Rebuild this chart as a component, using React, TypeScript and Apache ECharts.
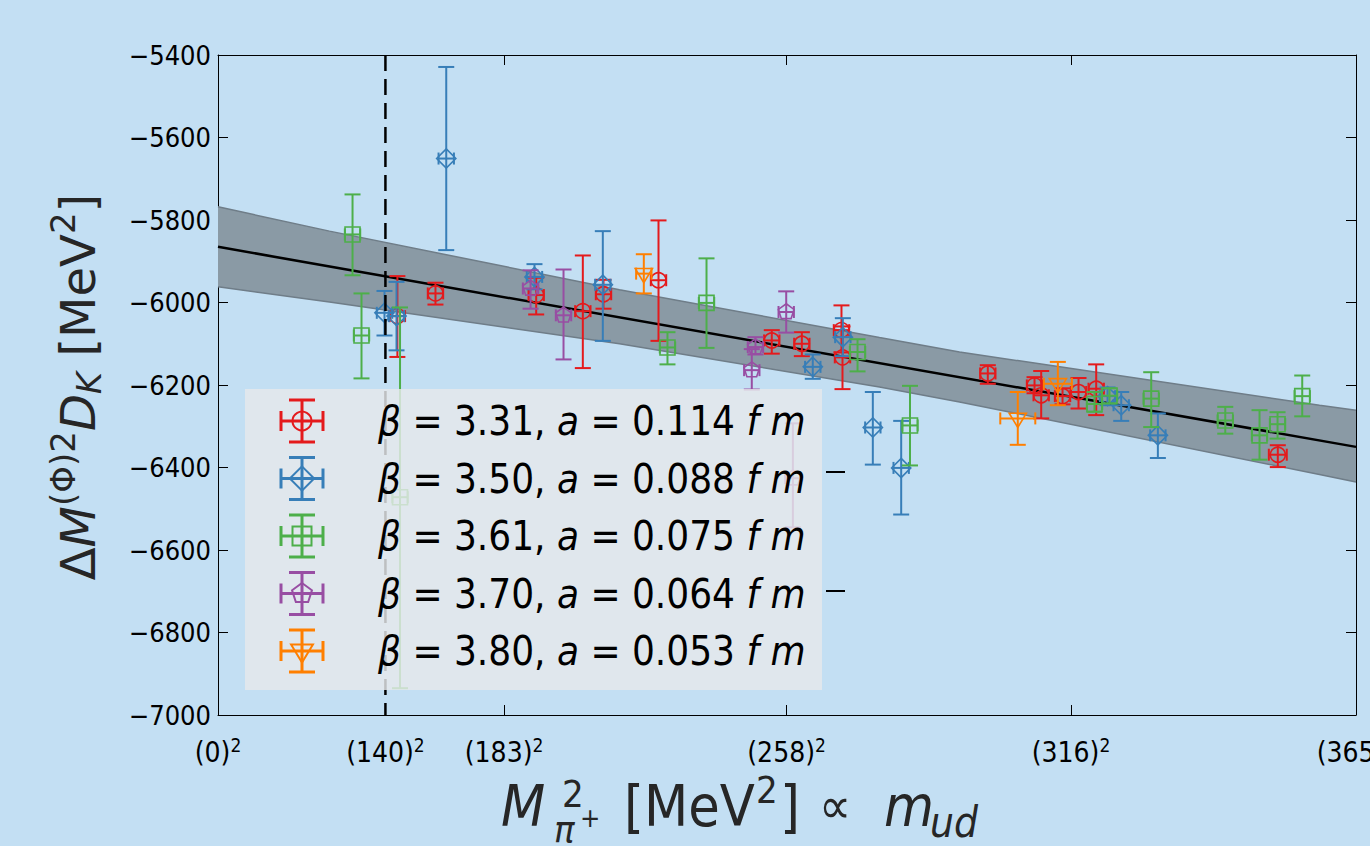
import React, { useEffect, useRef } from "react";
import * as echarts from "echarts";

const FONT_C = "'DejaVu Sans Condensed', 'DejaVu Sans', sans-serif";
const FONT = "'DejaVu Sans', sans-serif";
const BG = "#c3dff3";
const BAND_FILL = "#8a9aa5";
const BAND_EDGE = "#6f7d88";

// tick labels: pion masses (MeV) whose squares mark the x axis
const xTickMasses = [0, 140, 183, 258, 316, 365];
const physicalPionMass = 140;
const yMin = -7000;
const yMax = -5400;
const yStep = 200;

// fit line and its error band (x in MeV^2)
const fitX = [0, 133225];
const fitY = [-5865, -6350];
const bandX = [0, 13050, 47000, 77440, 86810, 128950, 133225];
const bandUpper = [-5768, -5827, -5969, -6085, -6120, -6249, -6261];
const bandLower = [-5962, -5999, -6100, -6205, -6241, -6417, -6435];

// points: [M_pi^2 (MeV^2), value, lower, upper, x error]
const beta331: number[][] = [
  [21000, -6033, -6132, -5936, 900],
  [25460, -5978, -6005, -5952, 900],
  [37250, -5982, -6029, -5940, 900],
  [42710, -6021, -6159, -5886, 900],
  [45130, -5980, -6015, -5945, 900],
  [51570, -5946, -6093, -5801, 900],
  [64830, -6092, -6124, -6067, 900],
  [68350, -6100, -6130, -6072, 900],
  [72990, -6067, -6121, -6007, 900],
  [73110, -6133, -6210, -6058, 900],
  [90120, -6172, -6197, -6152, 900],
  [95590, -6201, -6220, -6181, 900],
  [96370, -6225, -6281, -6166, 900],
  [98870, -6227, -6247, -6208, 900],
  [100740, -6217, -6257, -6183, 900],
  [102810, -6209, -6273, -6150, 900],
  [124070, -6369, -6399, -6346, 1050],
];
const beta350: number[][] = [
  [19490, -6025, -6080, -5972, 900],
  [20900, -6033, -6116, -5950, 900],
  [26720, -5651, -5873, -5429, 900],
  [37050, -5938, -5968, -5907, 900],
  [45050, -5957, -6093, -5827, 900],
  [69630, -6156, -6185, -6126, 900],
  [73150, -6084, -6130, -6038, 900],
  [76660, -6303, -6393, -6217, 900],
  [79980, -6401, -6514, -6287, 900],
  [104140, -6227, -6249, -6206, 900],
  [105740, -6249, -6287, -6217, 900],
  [110030, -6322, -6377, -6269, 900],
];
const beta361: number[][] = [
  [15750, -5835, -5934, -5738, 900],
  [16800, -6080, -6184, -5978, 900],
  [21310, -6472, -6935, -6012, 900],
  [52620, -6109, -6150, -6072, 900],
  [57190, -6001, -6110, -5893, 900],
  [74870, -6120, -6167, -6089, 900],
  [81010, -6298, -6395, -6202, 900],
  [102610, -6246, -6265, -6217, 900],
  [104370, -6226, -6245, -6208, 900],
  [109250, -6233, -6302, -6169, 900],
  [117920, -6286, -6318, -6253, 900],
  [121930, -6322, -6381, -6261, 900],
  [124040, -6295, -6330, -6266, 900],
  [126930, -6227, -6276, -6177, 900],
];
const beta370: number[][] = [
  [36590, -5966, -6015, -5922, 900],
  [40450, -6031, -6138, -5920, 900],
  [62490, -6164, -6211, -6113, 900],
  [62920, -6108, -6126, -6084, 900],
  [66520, -6023, -6073, -5973, 900],
  [67300, -6426, -6545, -6293, 900],
];
const beta380: number[][] = [
  [49850, -5930, -5978, -5883, 900],
  [93630, -6281, -6345, -6217, 2050],
  [98320, -6197, -6249, -6144, 1640],
];

const legendBetas = ["3.31", "3.50", "3.61", "3.70", "3.80"];
const legendSpacings = ["0.114", "0.088", "0.075", "0.064", "0.053"];
const groupColors = ["#e41a1c", "#377eb8", "#4daf4a", "#984ea3", "#ff7f00"];
const groupMarkers = ["circle", "diamond", "square", "pentagon", "triangleDown"];
const groupData = [beta331, beta350, beta361, beta370, beta380];

function marker(kind: string, cx: number, cy: number, s: number, color: string, lw: number): any {
  const style = { fill: "none", stroke: color, lineWidth: lw };
  if (kind === "circle") return { type: "circle", shape: { cx, cy, r: s }, style };
  if (kind === "square")
    return { type: "rect", shape: { x: cx - s, y: cy - s, width: 2 * s, height: 2 * s }, style };
  if (kind === "diamond") {
    const h = s * 1.28;
    return { type: "polygon", shape: { points: [[cx, cy - h], [cx + h, cy], [cx, cy + h], [cx - h, cy]] }, style };
  }
  if (kind === "pentagon") {
    const r = s * 1.1;
    const pts: number[][] = [];
    for (let k = 0; k < 5; k++) {
      const a = -Math.PI / 2 + (k * 2 * Math.PI) / 5;
      pts.push([cx + r * Math.cos(a), cy + r * Math.sin(a)]);
    }
    return { type: "polygon", shape: { points: pts }, style };
  }
  // triangle down
  const r = s * 1.15;
  return {
    type: "polygon",
    shape: { points: [[cx - r, cy - r * 0.6], [cx + r, cy - r * 0.6], [cx, cy + r * 1.05]] },
    style,
  };
}

function lineEl(x1: number, y1: number, x2: number, y2: number, color: string, w: number): any {
  return { type: "line", shape: { x1, y1, x2, y2 }, style: { stroke: color, lineWidth: w } };
}

function errorIcon(kind: string, cx: number, cy: number, color: string, opt: any): any[] {
  const { top, bottom, left, right, capV, capH, size, lw, mlw } = opt;
  return [
    lineEl(cx, top, cx, bottom, color, lw),
    lineEl(cx - capV, top, cx + capV, top, color, lw),
    lineEl(cx - capV, bottom, cx + capV, bottom, color, lw),
    lineEl(left, cy, right, cy, color, lw),
    lineEl(left, cy - capH, left, cy + capH, color, lw),
    lineEl(right, cy - capH, right, cy + capH, color, lw),
    marker(kind, cx, cy, size, color, mlw),
  ];
}

export default function App() {
  const ref = useRef<HTMLDivElement>(null);

  useEffect(() => {
    if (!ref.current) return;
    const chart = echarts.init(ref.current, undefined, { renderer: "svg" });

    const xTickValues = xTickMasses.map((m) => m * m);
    const xMax = xTickValues[xTickValues.length - 1];

    const errorSeries = groupData.map((data, gi) => ({
      type: "custom",
      name: "beta" + legendBetas[gi],
      data,
      encode: { x: 0, y: 1 },
      z: 5,
      silent: true,
      renderItem: (params: any, api: any) => {
        const x = api.value(0);
        const y = api.value(1);
        const lo = api.value(2);
        const hi = api.value(3);
        const xe = api.value(4);
        const c = api.coord([x, y]);
        const t = api.coord([x, hi]);
        const b = api.coord([x, lo]);
        const l = api.coord([x - xe, y]);
        const r = api.coord([x + xe, y]);
        return {
          type: "group",
          children: errorIcon(groupMarkers[gi], c[0], c[1], groupColors[gi], {
            top: t[1], bottom: b[1], left: l[0], right: r[0],
            capV: 8, capH: 6, size: 7.5, lw: 2, mlw: 1.6,
          }),
        };
      },
    }));

    const legendEls: any[] = [
      {
        type: "rect",
        shape: { x: 245, y: 389, width: 577, height: 301 },
        style: { fill: "rgba(231,233,235,0.82)" },
        z: 50,
      },
    ];
    legendBetas.forEach((b, i) => {
      const cy = 421 + i * 57.5;
      const cx = 302;
      errorIcon(groupMarkers[i], cx, cy, groupColors[i], {
        top: cy - 21, bottom: cy + 21, left: cx - 21, right: cx + 21,
        capV: 13, capH: 10, size: 9.5, lw: 3, mlw: 2,
      }).forEach((el) => legendEls.push({ ...el, z: 52 }));
      legendEls.push({
        type: "text",
        z: 52,
        x: 378,
        y: cy,
        style: {
          text: `{i|β}{n| = ${b}, }{i|a}{n| = ${legendSpacings[i]} }{i|f m}`,
          verticalAlign: "middle",
          align: "left",
          fill: "#000",
          rich: {
            n: { fontSize: 40, fontFamily: FONT_C, fill: "#000" },
            i: { fontSize: 40, fontFamily: FONT_C, fontStyle: "italic", fill: "#000" },
          },
        },
      });
    });

    const titleColor = "#262626";
    const axisTitles: any[] = [
      {
        type: "text",
        x: 78,
        y: 387,
        rotation: Math.PI / 2,
        style: {
          text: "{a|Δ}{i|M}{p|(Φ)2}{i|D}{b|K}{a| [MeV}{p|2}{a|]}",
          align: "center",
          verticalAlign: "middle",
          rich: {
            a: { fontSize: 48, fontFamily: FONT, fill: titleColor },
            i: { fontSize: 48, fontFamily: FONT, fontStyle: "italic", fill: titleColor },
            p: { fontSize: 34, fontFamily: FONT, fill: titleColor, padding: [0, 0, 30, 0] },
            b: { fontSize: 34, fontFamily: FONT, fontStyle: "italic", fill: titleColor, padding: [22, 0, 0, 0] },
          },
        },
      },
      {
        type: "text", x: 501, y: 806,
        style: { text: "M", fontSize: 57, fontFamily: FONT_C, fontStyle: "italic", fill: titleColor, verticalAlign: "middle", lineHeight: 50 },
      },
      {
        type: "text", x: 562, y: 794,
        style: { text: "2", fontSize: 38, fontFamily: FONT_C, fill: titleColor, verticalAlign: "middle", lineHeight: 24 },
      },
      {
        type: "text", x: 554, y: 829,
        style: { text: "π", fontSize: 38, fontFamily: FONT_C, fontStyle: "italic", fill: titleColor, verticalAlign: "middle", lineHeight: 24 },
      },
      {
        type: "text", x: 580, y: 817,
        style: { text: "+", fontSize: 27, fontFamily: FONT_C, fill: titleColor, verticalAlign: "middle", lineHeight: 14 },
      },
      {
        type: "text", x: 624, y: 806,
        style: { text: "[MeV", fontSize: 57, fontFamily: FONT_C, fill: titleColor, verticalAlign: "middle", lineHeight: 50 },
      },
      {
        type: "text", x: 756, y: 790,
        style: { text: "2", fontSize: 38, fontFamily: FONT_C, fill: titleColor, verticalAlign: "middle", lineHeight: 26 },
      },
      {
        type: "text", x: 780, y: 806,
        style: { text: "]", fontSize: 57, fontFamily: FONT_C, fill: titleColor, verticalAlign: "middle", lineHeight: 50 },
      },
      {
        type: "text", x: 819, y: 806,
        style: { text: "∝", fontSize: 50, fontFamily: FONT_C, fill: titleColor, verticalAlign: "middle", lineHeight: 40 },
      },
      {
        type: "text", x: 884, y: 806,
        style: { text: "m", fontSize: 57, fontFamily: FONT_C, fontStyle: "italic", fill: titleColor, verticalAlign: "middle", lineHeight: 40 },
      },
      {
        type: "text", x: 930, y: 822,
        style: { text: "ud", fontSize: 42, fontFamily: FONT_C, fontStyle: "italic", fill: titleColor, verticalAlign: "middle", lineHeight: 30 },
      },
      lineEl(826, 472, 845, 472, "#000", 2),
      lineEl(826, 591, 845, 591, "#000", 2),
    ];

    const axisCommon = {
      axisLine: { show: true, onZero: false, lineStyle: { color: "#000", width: 1 } },
      splitLine: { show: false },
    };

    chart.setOption({
      animation: false,
      backgroundColor: BG,
      grid: { left: 218, right: 14, top: 55, bottom: 131, outerBoundsMode: "none", containLabel: false },
      xAxis: [
        {
          type: "value",
          min: 0,
          max: xMax,
          position: "bottom",
          ...axisCommon,
          axisTick: { show: true, inside: true, length: 10, customValues: xTickValues, lineStyle: { color: "#000" } },
          axisLabel: {
            show: true,
            customValues: xTickValues,
            margin: 20,
            color: "#000",
            fontSize: 28,
            fontFamily: FONT_C,
            formatter: (v: number) => `(${Math.round(Math.sqrt(v))}){s|2}`,
            rich: { s: { fontSize: 19, fontFamily: FONT_C, color: "#000", padding: [0, 0, 16, 0] } },
          },
        },
        {
          type: "value",
          min: 0,
          max: xMax,
          position: "top",
          ...axisCommon,
          axisTick: { show: true, inside: true, length: 10, customValues: xTickValues, lineStyle: { color: "#000" } },
          axisLabel: { show: false },
        },
      ],
      yAxis: [
        {
          type: "value",
          min: yMin,
          max: yMax,
          interval: yStep,
          position: "left",
          ...axisCommon,
          axisTick: { show: true, inside: true, length: 10, lineStyle: { color: "#000" } },
          axisLabel: {
            margin: 7,
            color: "#000",
            fontSize: 27,
            fontFamily: FONT_C,
            formatter: (v: number) => String(v).replace("-", "\u2212"),
          },
        },
        {
          type: "value",
          min: yMin,
          max: yMax,
          interval: yStep,
          position: "right",
          ...axisCommon,
          axisTick: { show: true, inside: true, length: 10, lineStyle: { color: "#000" } },
          axisLabel: { show: false },
        },
      ],
      series: [
        {
          type: "custom",
          name: "band",
          silent: true,
          z: 1,
          data: bandX.map((x, i) => [x, bandUpper[i], bandLower[i]]),
          encode: { x: 0, y: 1 },
          renderItem: (params: any, api: any) => {
            if (params.dataIndex !== 0) return null;
            const pts: number[][] = [];
            for (let i = 0; i < bandX.length; i++) pts.push(api.coord([bandX[i], bandUpper[i]]));
            for (let i = bandX.length - 1; i >= 0; i--) pts.push(api.coord([bandX[i], bandLower[i]]));
            return { type: "polygon", shape: { points: pts }, style: { fill: BAND_FILL, stroke: "none" } };
          },
        },
        {
          type: "line",
          name: "bandUpper",
          data: bandX.map((x, i) => [x, bandUpper[i]]),
          symbol: "none",
          silent: true,
          z: 2,
          lineStyle: { color: BAND_EDGE, width: 1.5 },
        },
        {
          type: "line",
          name: "bandLower",
          data: bandX.map((x, i) => [x, bandLower[i]]),
          symbol: "none",
          silent: true,
          z: 2,
          lineStyle: { color: BAND_EDGE, width: 1.5 },
        },
        {
          type: "line",
          name: "fit",
          data: fitX.map((x, i) => [x, fitY[i]]),
          symbol: "none",
          silent: true,
          z: 3,
          lineStyle: { color: "#000", width: 2.5 },
        },
        ...errorSeries,
        {
          type: "line",
          name: "physical",
          data: [
            [physicalPionMass * physicalPionMass, yMax],
            [physicalPionMass * physicalPionMass, yMin],
          ],
          symbol: "none",
          silent: true,
          z: 6,
          lineStyle: { color: "#000", width: 2.5, type: [16, 8] },
        },
      ],
      graphic: [...legendEls, ...axisTitles],
    });

    return () => chart.dispose();
  }, []);

  return (
    <div
      ref={ref}
      style={{ position: "absolute", left: 0, top: 0, width: 1370, height: 846, background: BG }}
    />
  );
}
